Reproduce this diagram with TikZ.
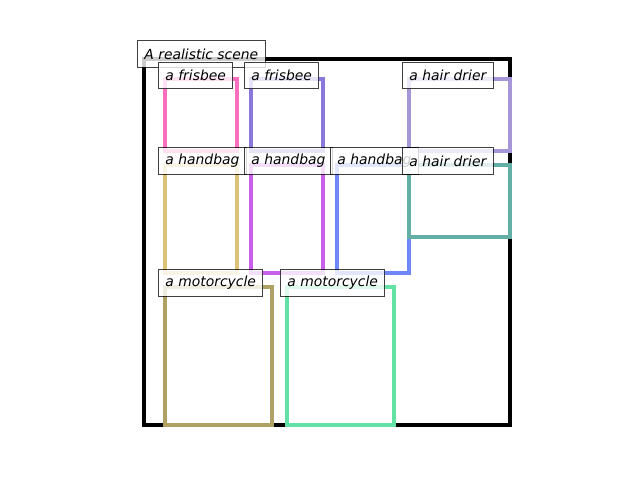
\documentclass[tikz,border=0pt]{standalone}
\usepackage{fontspec}
\setmainfont{DejaVu Sans}
\begin{document}
\begin{tikzpicture}[x=0.72pt,y=-0.72pt,
  bx/.style={line width=2.3pt},
  lbl/.style={anchor=west,draw=black,line width=0.7pt,fill=white,fill opacity=0.8,text opacity=1,draw opacity=0.75,
    font=\fontsize{10}{12}\selectfont\itshape,inner xsep=5pt,inner ysep=0pt,minimum height=19.4pt}]
\definecolor{cpink}{RGB}{255,110,190}
\definecolor{cpurple}{RGB}{140,120,220}
\definecolor{clav}{RGB}{165,150,215}
\definecolor{cyel}{RGB}{220,195,120}
\definecolor{cmag}{RGB}{200,95,235}
\definecolor{cblue}{RGB}{110,135,250}
\definecolor{cteal}{RGB}{100,175,165}
\definecolor{coli}{RGB}{175,160,100}
\definecolor{cgreen}{RGB}{100,225,165}
\useasboundingbox (0,0) rectangle (640,480);
\draw[line width=2.2pt,black] (144,59) rectangle (510,425);
\draw[bx,cpink] (165,79) rectangle (237,151);
\draw[bx,cpurple] (251,79) rectangle (323,151);
\draw[bx,clav] (409,79) rectangle (510,151);
\draw[bx,cyel] (165,165) rectangle (237,273);
\draw[bx,cmag] (251,165) rectangle (323,273);
\draw[bx,cblue] (337,165) rectangle (409,273);
\draw[bx,cteal] (409,165) rectangle (510,237);
\draw[bx,coli] (165,287) rectangle (272,425);
\draw[bx,cgreen] (287,287) rectangle (394,425);
\node[lbl] (scene) at (137,54) {A realistic scene};
\node[lbl] (f1) at (158,75.5) {a frisbee};
\node[lbl] (f2) at (244,75.5) {a frisbee};
\node[lbl] (h1) at (402,75.5) {a hair drier};
\node[lbl] (b1) at (158,161) {a handbag};
\node[lbl] (b2) at (244,161) {a handbag};
\node[lbl] (b3) at (330,161) {a handbag};
\node[lbl] (h2) at (402,161) {a hair drier};
\node[lbl] (m1) at (158,283) {a motorcycle};
\node[lbl] (m2) at (280,283) {a motorcycle};
\end{tikzpicture}
\end{document}
